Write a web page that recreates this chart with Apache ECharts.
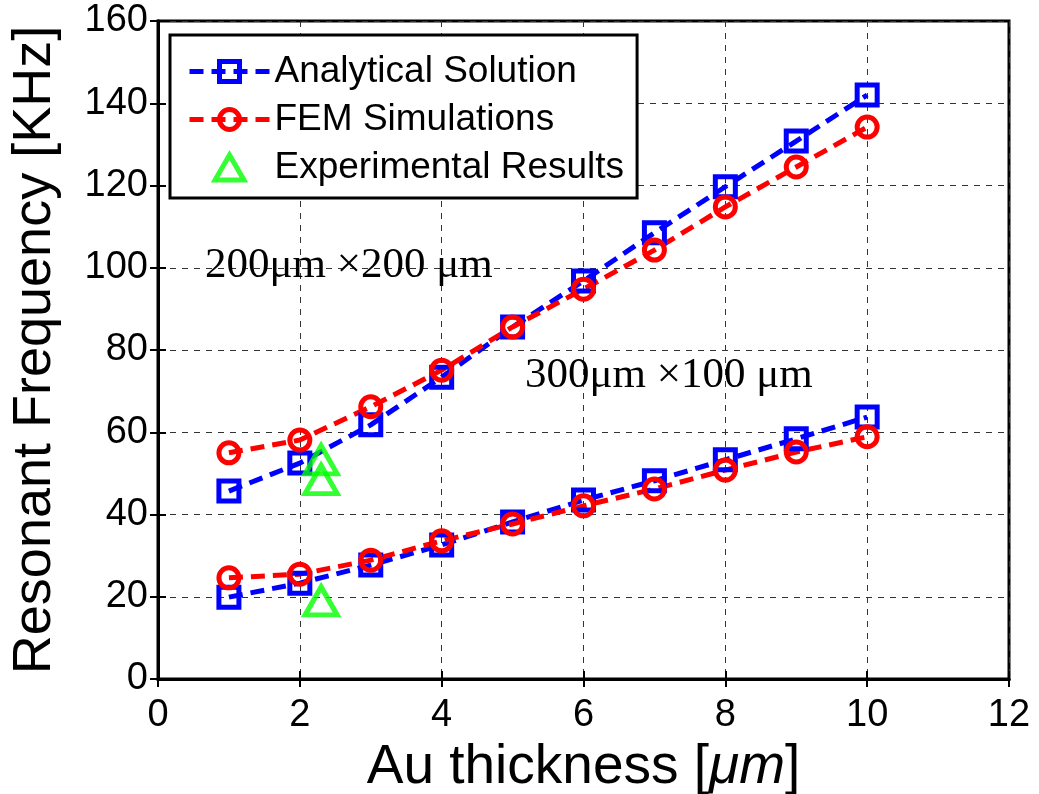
<!DOCTYPE html>
<html>
<head>
<meta charset="utf-8">
<script src="https://cdn.jsdelivr.net/npm/echarts@6/dist/echarts.min.js"></script>
<style>
html,body{margin:0;padding:0;background:#fff;}
#chart{width:1039px;height:794px;}
</style>
</head>
<body>
<div id="chart"></div>
<script>
// Au thickness [um]
const thickness = [1, 2, 3, 4, 5, 6, 7, 8, 9, 10];
// 200um x 200um
const analyticalA = [45.7, 52.5, 61.8, 73.4, 85.6, 96.8, 108.5, 119.7, 130.8, 142.0];
const femA        = [55.0, 58.1, 66.2, 75.1, 85.6, 94.8, 104.3, 114.8, 124.5, 134.2];
// 300um x 100um
const analyticalB = [19.9, 23.3, 27.7, 32.6, 38.2, 43.5, 48.2, 53.3, 58.4, 63.7];
const femB        = [24.6, 25.5, 28.9, 33.6, 37.7, 42.1, 46.2, 50.8, 55.2, 58.9];
// Experimental
const expX = [2.3, 2.3, 2.3];
const expY = [53.3, 48.5, 19.0];

const xTicks = [0, 2, 4, 6, 8, 10, 12];
const yTicks = [0, 20, 40, 60, 80, 100, 120, 140, 160];

const pairs = (xs, ys) => xs.map((x, i) => [x, ys[i]]);

const chart = echarts.init(document.getElementById('chart'), null, {renderer: 'canvas'});

const blue = '#0000ff', red = '#ff0000', green = '#00ff00';
const dash = [14, 8];

function lineSeries(name, data, color, symbol) {
  return {
    name: name,
    type: 'line',
    data: data,
    symbol: symbol,
    symbolSize: 20,
    showAllSymbol: true,
    lineStyle: {color: color, width: 5, type: dash},
    itemStyle: {color: 'rgba(255,255,255,0)', borderColor: color, borderWidth: 5},
    emphasis: {disabled: true},
    animation: false,
    z: 3
  };
}

const axisFont = {fontFamily: 'Liberation Sans, Arial, sans-serif', fontSize: 38, color: '#000'};

chart.setOption({
  backgroundColor: '#fff',
  animation: false,
  grid: {left: 158, right: 30, top: 21, bottom: 115, show: true, borderColor: '#000', borderWidth: 3,
    containLabel: false, outerBoundsMode: 'none'},
  legend: {
    left: 170, top: 35,
    orient: 'vertical',
    data: [
      {name: 'Analytical Solution'},
      {name: 'FEM Simulations'},
      {name: 'Experimental Results', icon: 'path://M0,-10L8.66,5L-8.66,5Z'}
    ],
    backgroundColor: '#fff',
    borderColor: '#000',
    borderWidth: 3,
    padding: [18, 13, 12, 17],
    itemWidth: 80,
    itemHeight: 25,
    itemGap: 11,
    selectedMode: false,
    itemStyle: {borderWidth: 5},
    lineStyle: {width: 5},
    textStyle: {fontFamily: 'Liberation Sans, Arial, sans-serif', fontSize: 37, color: '#000', lineHeight: 37}
  },
  xAxis: [{
    type: 'value', min: 0, max: 12, interval: 2,
    axisLine: {show: true, lineStyle: {color: '#000', width: 3}},
    axisTick: {show: true, inside: true, length: 8, lineStyle: {color: '#000', width: 2}},
    axisLabel: Object.assign({margin: 18, formatter: v => xTicks.includes(v) ? String(v) : ''}, axisFont),
    splitLine: {show: true, lineStyle: {color: '#333', width: 1, type: [6, 6]}},
    name: 'Au thickness [{i|μm}]',
    nameLocation: 'middle',
    nameGap: 50,
    nameTextStyle: {fontFamily: 'Liberation Sans, Arial, sans-serif', fontSize: 55, color: '#000',
      rich: {i: {fontFamily: 'Liberation Sans, Arial, sans-serif', fontStyle: 'italic', fontSize: 55, color: '#000'}}}
  }, {
    type: 'value', min: 0, max: 12, interval: 2, position: 'top',
    axisLine: {show: true, lineStyle: {color: '#000', width: 3}},
    axisTick: {show: true, inside: true, length: 8, lineStyle: {color: '#000', width: 2}},
    axisLabel: {show: false}, splitLine: {show: false}
  }],
  yAxis: [{
    type: 'value', min: 0, max: 160, interval: 20,
    axisLine: {show: true, lineStyle: {color: '#000', width: 3}},
    axisTick: {show: true, inside: true, length: 8, lineStyle: {color: '#000', width: 2}},
    axisLabel: Object.assign({margin: 10, formatter: v => yTicks.includes(v) ? String(v) : ''}, axisFont),
    splitLine: {show: true, lineStyle: {color: '#333', width: 1, type: [6, 6]}},
    name: 'Resonant Frequency [KHz]',
    nameLocation: 'middle',
    nameGap: 96,
    nameTextStyle: {fontFamily: 'Liberation Sans, Arial, sans-serif', fontSize: 54, color: '#000'}
  }, {
    type: 'value', min: 0, max: 160, interval: 20, position: 'right',
    axisLine: {show: true, lineStyle: {color: '#000', width: 3}},
    axisTick: {show: true, inside: true, length: 8, lineStyle: {color: '#000', width: 2}},
    axisLabel: {show: false}, splitLine: {show: false}
  }],
  series: [
    lineSeries('Analytical Solution', pairs(thickness, analyticalA), blue, 'rect'),
    lineSeries('FEM Simulations', pairs(thickness, femA), red, 'circle'),
    lineSeries('Analytical Solution', pairs(thickness, analyticalB), blue, 'rect'),
    lineSeries('FEM Simulations', pairs(thickness, femB), red, 'circle'),
    {
      name: 'Experimental Results',
      type: 'scatter',
      data: pairs(expX, expY),
      symbol: 'triangle',
      symbolSize: [32, 28],
      itemStyle: {color: 'rgba(255,255,255,0)', borderColor: green, borderWidth: 5},
      emphasis: {disabled: true},
      z: 4
    }
  ],
  graphic: [
    {type: 'text', left: 205, top: 244, z: 10,
      style: {text: '200μm ×200 μm', font: '43px "Liberation Serif", "Times New Roman", serif', fill: '#000'}},
    {type: 'text', left: 525, top: 354, z: 10,
      style: {text: '300μm ×100 μm', font: '43px "Liberation Serif", "Times New Roman", serif', fill: '#000'}}
  ]
});
</script>
</body>
</html>
